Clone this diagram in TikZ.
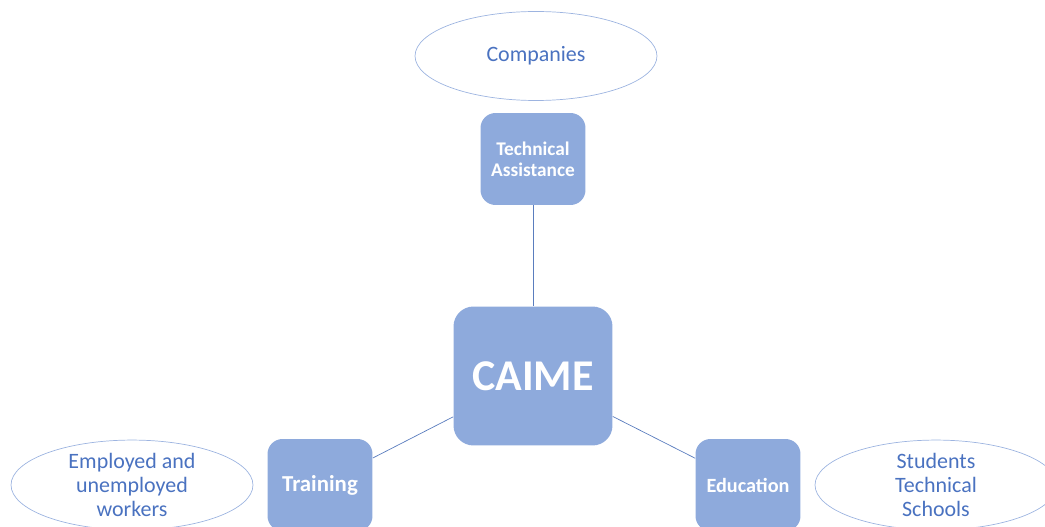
\documentclass[tikz,border=0pt]{standalone}
\usepackage{fontspec}
\setmainfont{Carlito}
\usepackage{tikz}
\usetikzlibrary{shapes.geometric}

\definecolor{boxblue}{HTML}{8EAADC}
\definecolor{textblue}{HTML}{4A72C0}
\definecolor{lineblue}{HTML}{5A7DBE}
\definecolor{ovalblue}{HTML}{9DB4E0}

\begin{document}
\begin{tikzpicture}[x=0.02cm, y=-0.02cm,
  box/.style={fill=boxblue, rounded corners=0.3cm, text=white, font=\bfseries\fontsize{11}{12}\selectfont, align=center, inner sep=0pt, minimum width=2.1cm, minimum height=1.84cm},
  oval/.style={ellipse, draw=ovalblue, thin, text=textblue, font=\fontsize{12.5}{13.7}\selectfont, align=center, inner sep=0pt, minimum width=4.84cm, minimum height=1.78cm},
  link/.style={draw=lineblue, thin}]
\useasboundingbox (0,0) rectangle (1045,527);

\node[oval] (companies) at (536,56) {Companies};
\node[box] (assist) at (533,159) {Technical\\Assistance};
\node[box, rounded corners=0.4cm, minimum width=3.18cm, minimum height=2.78cm, font=\bfseries\fontsize{25}{28}\selectfont] (caime) at (533,376) {CAIME};
\node[box, font=\bfseries\fontsize{13}{14}\selectfont] (training) at (320,485) {Training};
\node[box, font=\bfseries\fontsize{11.5}{13}\selectfont] (education) at (748,485) {Education};
\node[oval] (workers) at (132,485) {Employed and\\unemployed\\workers};
\node[oval] (students) at (936,485) {Students\\Technical\\Schools};

\draw[link] (assist) -- (caime);
\draw[link] (caime) -- (training);
\draw[link] (caime) -- (education);
\end{tikzpicture}
\end{document}
